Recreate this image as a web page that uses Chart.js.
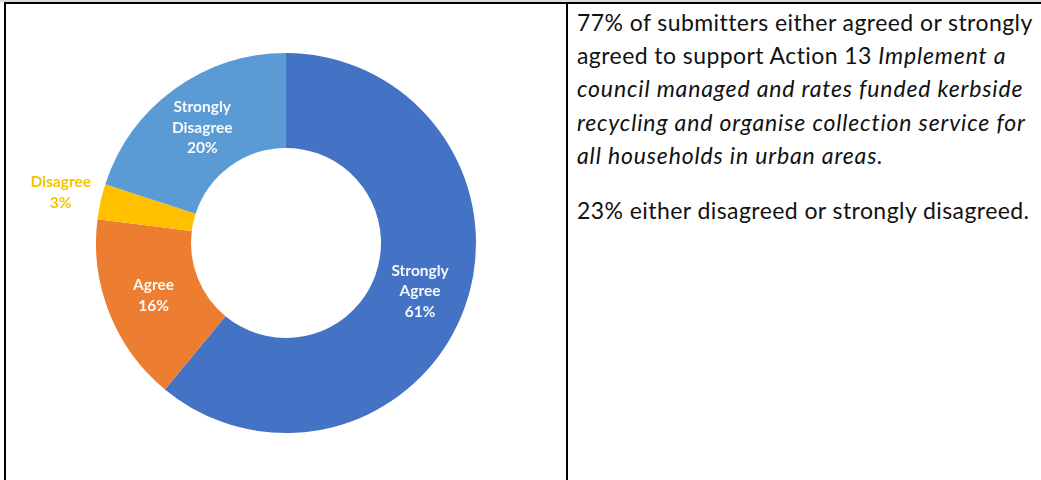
<!DOCTYPE html>
<html>
<head>
<meta charset="utf-8">
<script src="https://cdn.jsdelivr.net/npm/chart.js@4.4.1/dist/chart.umd.min.js"></script>
<style>
  html, body { margin: 0; padding: 0; background: #fff; }
  body { width: 1041px; height: 480px; position: relative; overflow: hidden; font-family: Lato, "Open Sans", sans-serif; }
  .topband { position: absolute; left: 0; top: 0; width: 1041px; height: 2px; background: #dcdcdc; }
  .topline { position: absolute; left: 4px; top: 2px; width: 1037px; height: 2px; background: #000; }
  .leftline { position: absolute; left: 4px; top: 2px; width: 2px; height: 478px; background: #000; }
  .midline { position: absolute; left: 566px; top: 2px; width: 2px; height: 478px; background: #000; }
  #chartBox { position: absolute; left: 6px; top: 4px; width: 560px; height: 476px; }
  .text { position: absolute; left: 577px; top: 6px; width: 470px; font-size: 23px; line-height: 33.2px; letter-spacing: 0.43px; color: #111; white-space: nowrap; }
  .text i { letter-spacing: 0.85px; }
  .text p { margin: 0; }
  .text p + p { margin-top: 22px; }
</style>
</head>
<body>
<div class="topband"></div>
<div class="topline"></div>
<div class="leftline"></div>
<div class="midline"></div>
<div id="chartBox"><canvas id="donut"></canvas></div>
<div class="text">
  <p>77% of submitters either agreed or strongly<br>agreed to support Action 13 <i>Implement a<br>council managed and rates funded kerbside<br>recycling and organise collection service for<br>all households in urban areas.</i></p>
  <p>23% either disagreed or strongly disagreed.</p>
</div>
<script>
// Survey responses, clockwise from 12 o'clock
const categories = ["Strongly Agree", "Agree", "Disagree", "Strongly Disagree"];
const shares = [61, 16, 3, 20];
const sliceColors = ["#4472C4", "#ED7D31", "#FFC000", "#5B9BD5"];

// Writes "Category\nNN%" on each slice; the thin Disagree slice gets its label outside the ring
const sliceLabels = {
  id: "sliceLabels",
  afterDatasetsDraw(chart) {
    const ctx = chart.ctx;
    const meta = chart.getDatasetMeta(0);
    ctx.save();
    ctx.font = "bold 15.5px Lato, 'Open Sans', sans-serif";
    ctx.textAlign = "center";
    ctx.textBaseline = "middle";
    meta.data.forEach((arc, i) => {
      const mid = (arc.startAngle + arc.endAngle) / 2;
      const outside = shares[i] < 5;
      const r = outside ? arc.outerRadius * 1.215 : (arc.innerRadius + arc.outerRadius) / 2;
      const x = arc.x + Math.cos(mid) * r;
      const y = arc.y + Math.sin(mid) * r;
      const lines = categories[i].split(" ").concat([shares[i] + "%"]);
      ctx.fillStyle = outside ? "#F5C400" : "rgba(255,255,255,0.95)";
      const lh = 20.5;
      const y0 = y - (lines.length - 1) * lh / 2;
      lines.forEach((t, k) => ctx.fillText(t, x, y0 + k * lh));
    });
    ctx.restore();
  }
};

new Chart(document.getElementById("donut"), {
  type: "doughnut",
  data: {
    labels: categories,
    datasets: [{
      data: shares,
      backgroundColor: sliceColors,
      borderWidth: 0
    }]
  },
  options: {
    responsive: true,
    maintainAspectRatio: false,
    animation: false,
    cutout: "50%",
    rotation: 0,
    layout: { padding: { left: 90, right: 90, top: 49, bottom: 47 } },
    plugins: {
      legend: { display: false },
      tooltip: { enabled: false }
    }
  },
  plugins: [sliceLabels]
});
</script>
</body>
</html>
